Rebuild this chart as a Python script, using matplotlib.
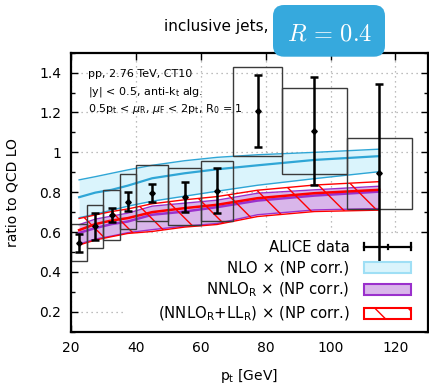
import numpy as np
import matplotlib
matplotlib.use('Agg')
import matplotlib.pyplot as plt
from matplotlib.patches import Rectangle, FancyBboxPatch
from matplotlib.lines import Line2D
from matplotlib.legend_handler import HandlerBase
from matplotlib.ticker import MultipleLocator, FormatStrFormatter

# ---------------- data ----------------
pt = [22.5, 27.5, 32.5, 37.5, 45, 55, 65, 77.5, 95, 115]
bin_lo = [20, 25, 30, 35, 40, 50, 60, 70, 85, 105]
bin_hi = [25, 30, 35, 40, 50, 60, 70, 85, 105, 125]
alice = [0.547, 0.628, 0.685, 0.753, 0.795, 0.778, 0.808, 1.206, 1.107, 0.894]
stat_err = [0.045, 0.068, 0.036, 0.046, 0.046, 0.075, 0.113, 0.181, 0.273, 0.449]
sys_err = [0.091, 0.106, 0.125, 0.138, 0.140, 0.143, 0.150, 0.224, 0.215, 0.178]

nlo_hi = [0.862, 0.878, 0.895, 0.912, 0.935, 0.958, 0.975, 0.988, 1.000, 1.016]
nlo_c = [0.775, 0.798, 0.812, 0.833, 0.870, 0.895, 0.915, 0.935, 0.962, 0.981]
nlo_lo = [0.672, 0.690, 0.710, 0.730, 0.755, 0.780, 0.805, 0.835, 0.868, 0.903]

nnlo_hi = [0.637, 0.665, 0.680, 0.695, 0.730, 0.745, 0.760, 0.795, 0.812, 0.830]
nnlo_c = [0.596, 0.620, 0.640, 0.653, 0.687, 0.703, 0.725, 0.758, 0.783, 0.803]
nnlo_lo = [0.540, 0.565, 0.580, 0.597, 0.612, 0.630, 0.643, 0.687, 0.711, 0.718]

ll_hi = [0.668, 0.686, 0.703, 0.716, 0.742, 0.762, 0.778, 0.810, 0.836, 0.853]
ll_c = [0.610, 0.640, 0.658, 0.670, 0.700, 0.720, 0.737, 0.770, 0.795, 0.812]
ll_lo = [0.535, 0.560, 0.577, 0.593, 0.603, 0.625, 0.638, 0.678, 0.703, 0.710]

yticks = [0.2, 0.4, 0.6, 0.8, 1.0, 1.2, 1.4]
xticks = [20, 40, 60, 80, 100, 120]

# ---------------- style ----------------
C_NLO_FILL = '#daf4fc'
C_NLO_LINE = '#2fa6d6'
C_NNLO_FILL = '#d9b6ea'
C_NNLO_LINE = '#9a30cc'
C_RED = '#ff0000'
HATCH = '\\'

plt.rcParams['font.family'] = ['DejaVu Sans']
plt.rcParams['hatch.linewidth'] = 1.0
plt.rcParams['hatch.color'] = C_RED

fig = plt.figure(figsize=(4.29, 3.85), dpi=100)
ax = fig.add_axes([0.1655, 0.1384, 0.832, 0.7247])
ax.set_xlim(20, 130)
ax.set_ylim(0.1, 1.5)
ax.set_axisbelow(True)
ax.grid(True, which='major', ls=(0, (1, 3)), color='#a8a8a8', lw=0.9)

# white legend background (hides grid)
ax.add_patch(Rectangle((0.151, 0.0), 0.849, 0.345, transform=ax.transAxes,
                       facecolor='white', edgecolor='none', zorder=0.8))

# NLO band
ax.fill_between(pt, nlo_lo, nlo_hi, color=C_NLO_FILL, lw=0, zorder=1)
ax.plot(pt, nlo_hi, color=C_NLO_LINE, lw=1.0, zorder=1.2)
ax.plot(pt, nlo_lo, color=C_NLO_LINE, lw=1.0, zorder=1.2)
ax.plot(pt, nlo_c, color=C_NLO_LINE, lw=1.6, zorder=1.3)

# NNLO_R band
ax.fill_between(pt, nnlo_lo, nnlo_hi, color=C_NNLO_FILL, lw=0, zorder=1.5)
ax.plot(pt, nnlo_hi, color=C_NNLO_LINE, lw=1.0, zorder=1.6)
ax.plot(pt, nnlo_lo, color=C_NNLO_LINE, lw=1.0, zorder=1.6)
ax.plot(pt, nnlo_c, color=C_NNLO_LINE, lw=1.8, zorder=1.7)

# NNLO_R + LL_R band (hatched)
ax.fill_between(pt, ll_lo, ll_hi, facecolor='none', edgecolor=C_RED, hatch=HATCH,
                lw=0, zorder=1.8)
ax.plot(pt, ll_hi, color=C_RED, lw=1.0, zorder=1.9)
ax.plot(pt, ll_lo, color=C_RED, lw=1.0, zorder=1.9)
ax.plot(pt, ll_c, color=C_RED, lw=1.8, zorder=1.95)

# systematic boxes
for lo, hi, v, s in zip(bin_lo, bin_hi, alice, sys_err):
    ax.add_patch(Rectangle((lo, v - s), hi - lo, 2 * s, facecolor='none',
                           edgecolor='#3a3a3a', lw=1.0, zorder=2.5))

# stat error bars
ax.errorbar(pt, alice, yerr=stat_err, fmt='none', ecolor='black', elinewidth=1.8,
            capsize=3, capthick=1.8, zorder=3)
ax.plot(pt, alice, ls='none', marker='D', ms=2.8, color='black', zorder=3.1)

# ticks
ax.set_xticks(xticks)
ax.set_yticks(yticks)
ax.yaxis.set_minor_locator(MultipleLocator(0.1))
ax.yaxis.set_major_formatter(FormatStrFormatter('%g'))
ax.tick_params(which='both', direction='in', top=True, right=True, labelsize=10)
ax.tick_params(which='major', length=5, width=1.0, pad=7)
ax.tick_params(which='minor', length=3, width=1.0)
for sp in ax.spines.values():
    sp.set_linewidth(1.6)

ax.set_ylabel('ratio to QCD LO', fontsize=10)
ax.yaxis.set_label_coords(-0.145, 0.5)
ax.set_xlabel(r'p$_\mathrm{t}$ [GeV]', fontsize=10, labelpad=8)

# text block
ax.text(0.048, 0.925, 'pp, 2.76 TeV, CT10', transform=ax.transAxes, fontsize=8, va='center')
ax.text(0.048, 0.86, r'|y| < 0.5, anti-k$_\mathrm{t}$ alg.', transform=ax.transAxes,
        fontsize=8, va='center')
ax.text(0.048, 0.797,
        r'0.5p$_\mathrm{t}$ < $\mu_\mathrm{R}$, $\mu_\mathrm{F}$ < 2p$_\mathrm{t}$, R$_0$ = 1',
        transform=ax.transAxes, fontsize=8, va='center')


# legend
class ErrHandler(HandlerBase):
    def create_artists(self, legend, orig_handle, xdescent, ydescent, width, height,
                       fontsize, trans):
        y = height / 2 - ydescent
        x0, x1 = -xdescent, width - xdescent
        xm = (x0 + x1) / 2
        arts = [Line2D([x0, x1], [y, y], color='black', lw=1.6),
                Line2D([x0, x0], [y - 2.6, y + 2.6], color='black', lw=1.6),
                Line2D([x1, x1], [y - 2.6, y + 2.6], color='black', lw=1.6),
                Line2D([xm, xm], [y - 1.6, y + 1.6], color='black', lw=1.6)]
        for a in arts:
            a.set_transform(trans)
        return arts


h_data = Line2D([], [], color='black')
h_nlo = Rectangle((0, 0), 1, 1, facecolor=C_NLO_FILL, edgecolor='#9fdff5', lw=1.5)
h_nnlo = Rectangle((0, 0), 1, 1, facecolor=C_NNLO_FILL, edgecolor=C_NNLO_LINE, lw=1.5)
h_ll = Rectangle((0, 0), 1, 1, facecolor='white', edgecolor=C_RED, lw=1.5, hatch=HATCH)
leg = ax.legend([h_data, h_nlo, h_nnlo, h_ll],
                ['ALICE data', r'NLO × (NP corr.)', r'NNLO$_\mathrm{R}$ × (NP corr.)',
                 r'(NNLO$_\mathrm{R}$+LL$_\mathrm{R}$) × (NP corr.)'],
                handler_map={h_data: ErrHandler()},
                loc='lower right', bbox_to_anchor=(0.952, 0.03), borderpad=0,
                borderaxespad=0, frameon=False, markerfirst=False, fontsize=10.7,
                handlelength=3.13, handleheight=0.8, labelspacing=0.37,
                handletextpad=1.0)
for t in leg.get_texts():
    t.set_ha('right')
leg.set_zorder(4)

# title
fig.text(2.69 / 4.29, 1 - 26.7 / 385, 'inclusive jets,', fontsize=11, ha='right', va='center')
box = FancyBboxPatch((2.73, 3.283), 1.12, 0.517, boxstyle='round,pad=0,rounding_size=0.11',
                     transform=fig.dpi_scale_trans, facecolor='#36a9dd', edgecolor='none',
                     zorder=10)
fig.add_artist(box)
fig.text(3.295 / 4.29, 1 - 33.5 / 385, r'$R\,=\,0.4$', fontsize=17.5, color='white',
         ha='center', va='center', math_fontfamily='cm', zorder=11)

fig.savefig('out.png', dpi=100)
